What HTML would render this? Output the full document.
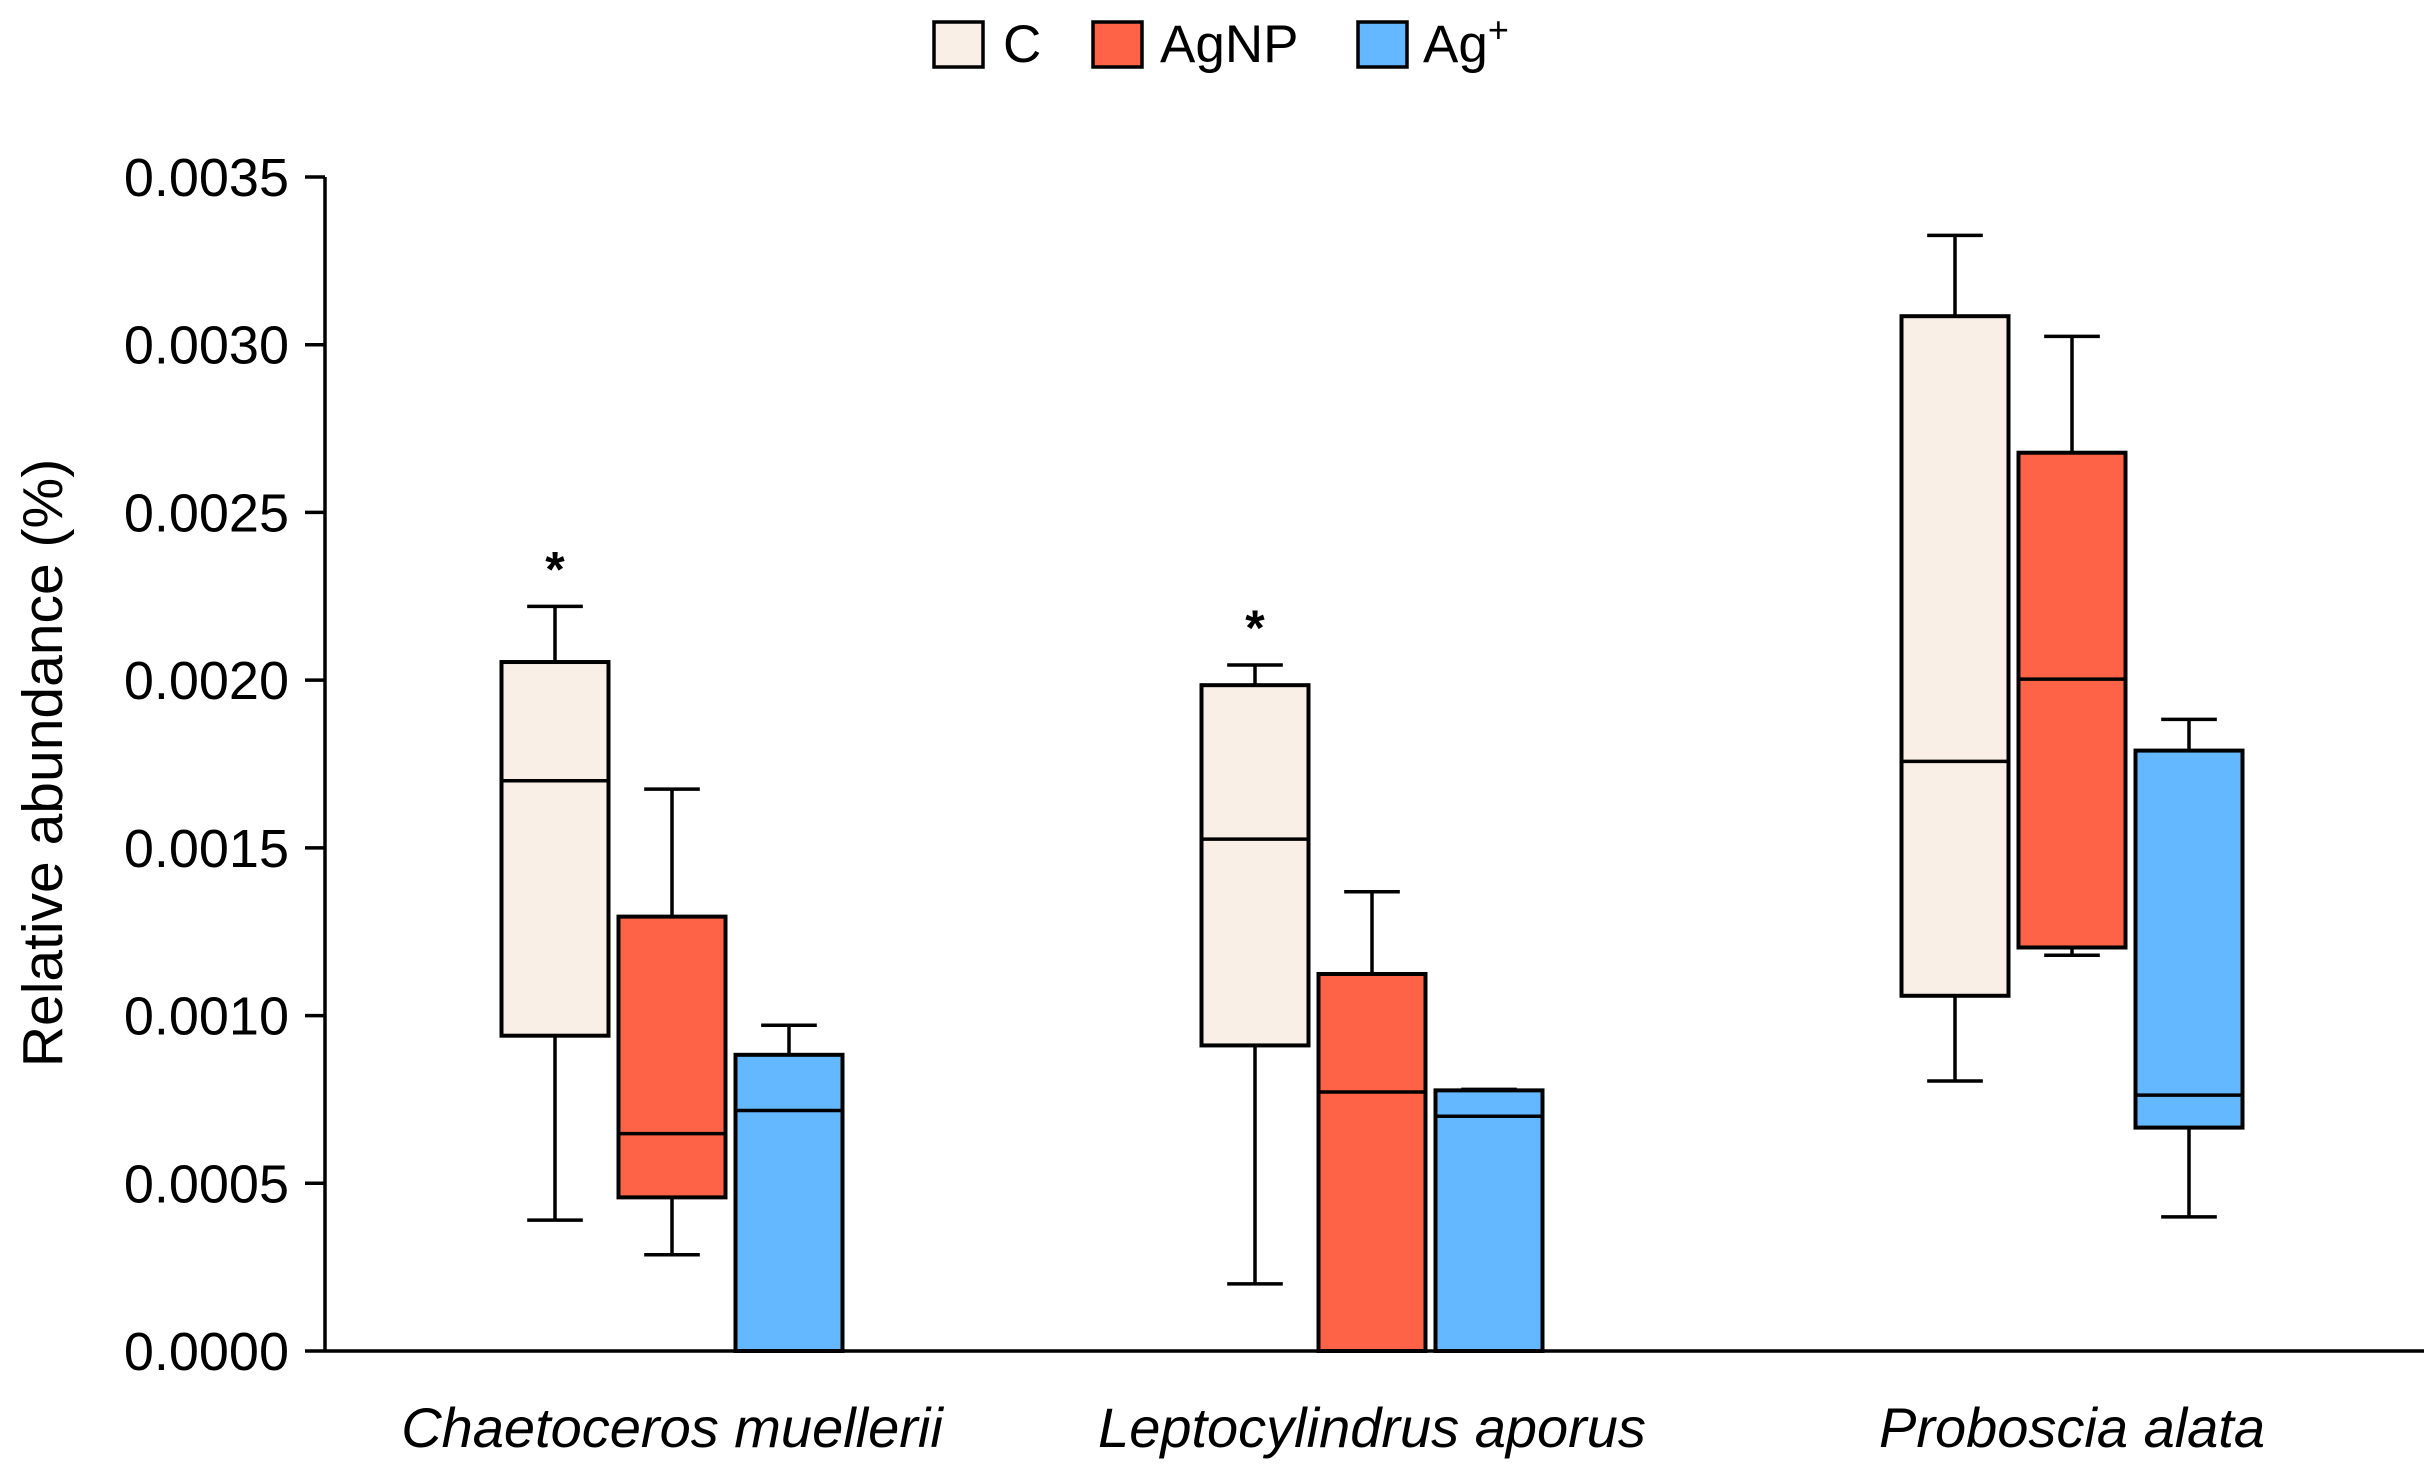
<!DOCTYPE html>
<html><head><meta charset="utf-8"><style>
html,body{margin:0;padding:0;background:#fff;}
svg{display:block;font-family:"Liberation Sans",Arial,sans-serif;}
</style></head><body>
<svg id="chart" width="2431" height="1464" viewBox="0 0 2431 1464" xmlns="http://www.w3.org/2000/svg">
<g id="legend">
  <g><rect x="934" y="22" width="49" height="45" fill="#FAEFE6" stroke="#000" stroke-width="3.5"/><text x="1003" y="62" font-size="53">C</text></g>
  <g><rect x="1093" y="22" width="49" height="45" fill="#FF6347" stroke="#000" stroke-width="3.5"/><text x="1160" y="62" font-size="53">AgNP</text></g>
  <g><rect x="1358" y="22" width="49" height="45" fill="#63B8FF" stroke="#000" stroke-width="3.5"/><text x="1423" y="62" font-size="53">Ag<tspan font-size="36" dy="-20">+</tspan></text></g>
</g>
<text transform="translate(62,763) rotate(-90)" text-anchor="middle" font-size="57">Relative abundance (%)</text>
<g id="axes"></g>
<g id="marks"></g>
<script>
const categories = ["Chaetoceros muellerii","Leptocylindrus aporus","Proboscia alata"];
const series = ["C","AgNP","Ag+"];
const colors = ["#FAEFE6","#FF6347","#63B8FF"];
const yTicks = [0,0.0005,0.001,0.0015,0.002,0.0025,0.003,0.0035];
const yTickLabels = ["0.0000","0.0005","0.0010","0.0015","0.0020","0.0025","0.0030","0.0035"];
// [min, q1, median, q3, max] per category, per series
const statsC = [[0.00039,0.00094,0.0017,0.002054,0.00222],[0.0002,0.000911,0.001526,0.001985,0.002045],[0.000805,0.001059,0.001758,0.003085,0.003326]];
const statsAgNP = [[0.000287,0.000458,0.000648,0.001295,0.001675],[0,0,0.000772,0.001124,0.001369],[0.00118,0.001203,0.002003,0.002678,0.003025]];
const statsAg = [[0,0,0.000717,0.000883,0.000971],[0,0,0.0007,0.000777,0.00078],[0.0004,0.000666,0.000763,0.00179,0.001883]];
const significant = [true,true,false];

const NS="http://www.w3.org/2000/svg";
const x0=325,x1=2424,y0=1351,yTop=177,yMax=0.0035;
const yS=v=>y0-(v/yMax)*(y0-yTop);
const groupCenter=i=>672+i*700;
const boxW=107,boxStep=117;
function mk(t,a,p){const e=document.createElementNS(NS,t);for(const k in a)e.setAttribute(k,a[k]);p.appendChild(e);return e;}
const axes=document.getElementById('axes'),marks=document.getElementById('marks');
let e=mk('line',{x1:x0,y1:yTop,x2:x0,y2:y0,stroke:'#000','stroke-width':3.5},axes);


e=mk('line',{x1:x0,y1:y0,x2:x1,y2:y0,stroke:'#000','stroke-width':3.5},axes);


yTicks.forEach((t,i)=>{
  const y=yS(t);
  const l=mk('line',{x1:305,y1:y,x2:x0,y2:y,stroke:'#000','stroke-width':3.5},axes);
  
  
  const tx=mk('text',{x:289,y:y+19,'text-anchor':'end','font-size':54},axes);
  tx.textContent=yTickLabels[i];
  
  
});
categories.forEach((c,i)=>{
  const tx=mk('text',{x:groupCenter(i),y:1447,'text-anchor':'middle','font-size':56,'font-style':'italic'},axes);
  tx.textContent=c;
  
  
});
const all=[statsC,statsAgNP,statsAg];
categories.forEach((c,i)=>{
  all.forEach((st,s)=>{
    const d=st[i];
    const cx=groupCenter(i)+(s-1)*boxStep;
    const g=mk('g',{},marks);
    
    
    const cap=boxW*0.26;
    if(d[4]>d[3]){mk('line',{x1:cx,y1:yS(d[4]),x2:cx,y2:yS(d[3]),stroke:'#000','stroke-width':3.5},g);
      mk('line',{x1:cx-cap,y1:yS(d[4]),x2:cx+cap,y2:yS(d[4]),stroke:'#000','stroke-width':3.5},g);}
    if(d[1]>d[0]){mk('line',{x1:cx,y1:yS(d[1]),x2:cx,y2:yS(d[0]),stroke:'#000','stroke-width':3.5},g);
      mk('line',{x1:cx-cap,y1:yS(d[0]),x2:cx+cap,y2:yS(d[0]),stroke:'#000','stroke-width':3.5},g);}
    mk('rect',{x:cx-boxW/2,y:yS(d[3]),width:boxW,height:yS(d[1])-yS(d[3]),fill:colors[s],stroke:'#000','stroke-width':4},g);
    mk('line',{x1:cx-boxW/2,y1:yS(d[2]),x2:cx+boxW/2,y2:yS(d[2]),stroke:'#000','stroke-width':3.5},g);
    if(s===0&&significant[i]){
      const a=mk('text',{x:cx,y:yS(d[4])-20,'text-anchor':'middle','font-size':50,'font-weight':'bold'},g);
      a.textContent='*';
      
      
    }
  });
});
</script>
</svg>
</body></html>
